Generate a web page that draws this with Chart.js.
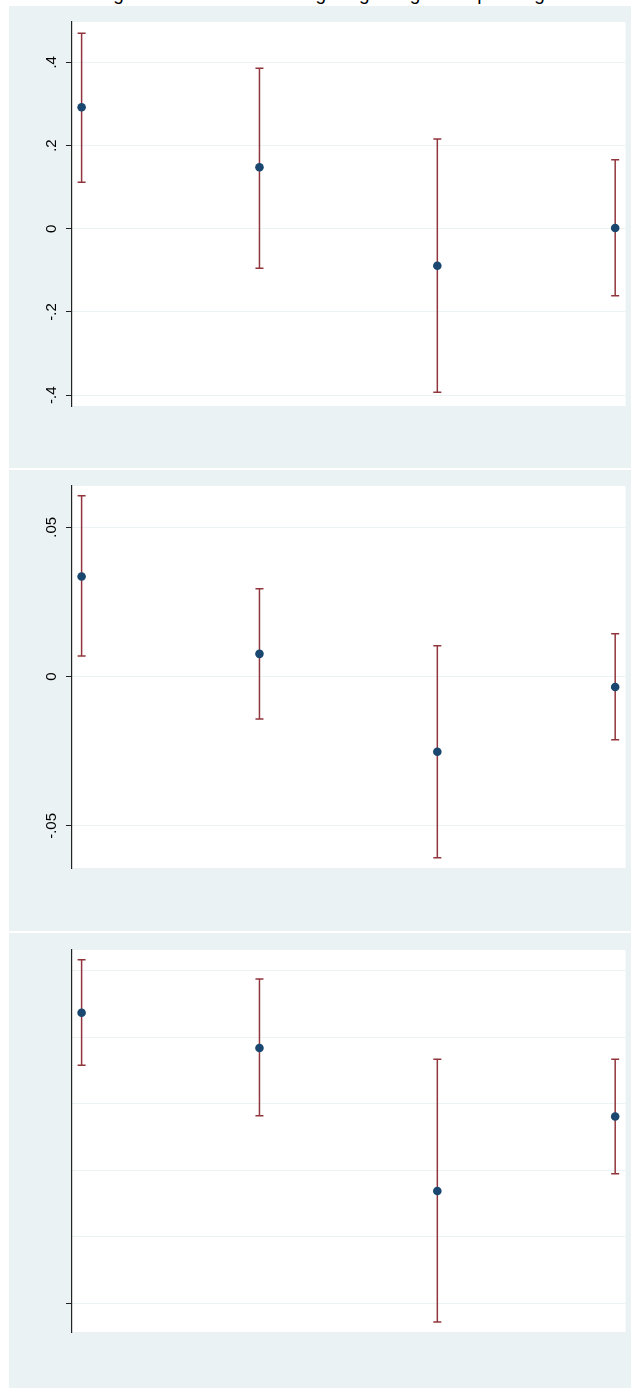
<!DOCTYPE html>
<html>
<head>
<meta charset="utf-8">
<script src="https://cdn.jsdelivr.net/npm/chart.js@4.4.1/dist/chart.umd.min.js"></script>
<style>
  html, body { margin: 0; padding: 0; background: #fff; }
  body { width: 631px; height: 1388px; position: relative; overflow: hidden;
         font-family: "Liberation Sans", Arial, sans-serif; }
  #title { position: absolute; left: -15px; top: -17px; width: 631px; text-align: center;
           font-size: 19px; line-height: normal; white-space: nowrap; color: #000; }
  .panel { position: absolute; left: 9px; width: 622px; background: #EAF2F3; }
  .panel canvas { display: block; }
</style>
</head>
<body>
<div id="title">Heterogeneous effects of strong bargaining over spending</div>
<div class="panel" style="top:6px;height:462px"><canvas id="c1" width="622" height="462"></canvas></div>
<div class="panel" style="top:470px;height:461px"><canvas id="c2" width="622" height="461"></canvas></div>
<div class="panel" style="top:933px;height:455px"><canvas id="c3" width="622" height="455"></canvas></div>

<script>
// Groups along the horizontal axis
const categories = [1, 2, 3, 4];
const xRange = [0.946, 4.058];

// Panel 1: point estimates and 95% confidence bounds
const est1 = [0.292, 0.148, -0.089, 0.002];
const lo1  = [0.112, -0.095, -0.393, -0.161];
const hi1  = [0.470, 0.386, 0.216, 0.166];
const yTicks1  = [-0.4, -0.2, 0, 0.2, 0.4];
const yLabels1 = ['-.4', '-.2', '0', '.2', '.4'];
const yRange1  = [-0.426, 0.497];

// Panel 2
const est2 = [0.0335, 0.0076, -0.0252, -0.0035];
const lo2  = [0.0069, -0.0142, -0.0607, -0.0212];
const hi2  = [0.0605, 0.0294, 0.0103, 0.0143];
const yTicks2  = [-0.05, 0, 0.05];
const yLabels2 = ['-.05', '0', '.05'];
const yRange2  = [-0.0641, 0.0638];

// Panel 3 (unlabelled axis)
const est3 = [4.37, 3.84, 1.69, 2.81];
const lo3  = [3.58, 2.82, -0.28, 1.95];
const hi3  = [5.17, 4.88, 3.67, 3.67];
const yTicks3  = [0, 1, 2, 3, 4, 5];
const yLabels3 = ['', '', '', '', '', ''];
const yRange3  = [-0.432, 5.315];
const marked3  = [0];

const NAVY = '#1A476F';
const MAROON = '#90353B';
const GRID = '#EAF2F3';
const AXIS = '#222';
const FONT = '"Liberation Sans", Arial, sans-serif';

// White plot region behind the marks
const plotBg = {
  id: 'plotBg',
  beforeDraw(chart) {
    const { ctx, chartArea: a } = chart;
    ctx.save();
    ctx.fillStyle = '#fff';
    ctx.fillRect(a.left, a.top, a.right - a.left, a.bottom - a.top);
    ctx.restore();
  }
};

// Keep rotated tick labels centred on a fixed column left of the axis
function labelPadding(labels) {
  const m = document.createElement('canvas').getContext('2d');
  m.font = '15px ' + FONT;
  const w = Math.max(0, ...labels.map(l => m.measureText(l).width));
  return Math.max(0, 14 - w / 2);
}

function makePanel(id, est, lo, hi, yTicks, yLabels, yRange, marked, pad) {
  const ciData = [];
  categories.forEach((c, i) => {
    ciData.push({ x: c, y: lo[i] }, { x: c, y: hi[i] }, { x: c, y: null });
  });
  const ptData = categories.map((c, i) => ({ x: c, y: est[i] }));

  new Chart(document.getElementById(id), {
    type: 'scatter',
    data: {
      datasets: [
        {
          label: 'Estimate',
          data: ptData,
          order: 0,
          showLine: false,
          pointRadius: 4.3,
          pointHoverRadius: 4.3,
          pointBackgroundColor: NAVY,
          pointBorderColor: NAVY,
          pointBorderWidth: 0
        },
        {
          label: '95% CI',
          data: ciData,
          order: 1,
          showLine: true,
          spanGaps: false,
          borderColor: MAROON,
          borderWidth: 1.5,
          pointStyle: 'line',
          pointRadius: 4,
          pointHoverRadius: 4,
          pointBorderColor: MAROON,
          pointBorderWidth: 1.5
        }
      ]
    },
    options: {
      responsive: false,
      animation: false,
      events: [],
      layout: { padding: { left: 0, top: pad.top, right: 4, bottom: pad.bottom } },
      plugins: { legend: { display: false }, tooltip: { enabled: false } },
      scales: {
        x: { type: 'linear', display: false, min: xRange[0], max: xRange[1] },
        y: {
          type: 'linear',
          min: yRange[0],
          max: yRange[1],
          afterBuildTicks: s => { s.ticks = yTicks.map(v => ({ value: v })); },
          afterFit: s => { s.width = 63; s.paddingTop = 0; s.paddingBottom = 0; },
          grid: {
            color: GRID,
            lineWidth: 1,
            tickLength: 6,
            tickWidth: 1,
            tickColor: ctx => (marked === null || (ctx.tick && marked.includes(ctx.tick.value))) ? AXIS : 'rgba(0,0,0,0)'
          },
          border: { display: true, color: AXIS, width: 1.2 },
          ticks: {
            color: '#000',
            font: { family: FONT, size: 15 },
            minRotation: 90,
            maxRotation: 90,
            crossAlign: 'center',
            padding: labelPadding(yLabels),
            callback: v => yLabels[yTicks.indexOf(v)]
          }
        }
      }
    },
    plugins: [plotBg]
  });
}

makePanel('c1', est1, lo1, hi1, yTicks1, yLabels1, yRange1, null, { top: 16, bottom: 62 });
makePanel('c2', est2, lo2, hi2, yTicks2, yLabels2, yRange2, null, { top: 16, bottom: 63 });
makePanel('c3', est3, lo3, hi3, yTicks3, yLabels3, yRange3, marked3, { top: 17, bottom: 56 });
</script>
</body>
</html>
